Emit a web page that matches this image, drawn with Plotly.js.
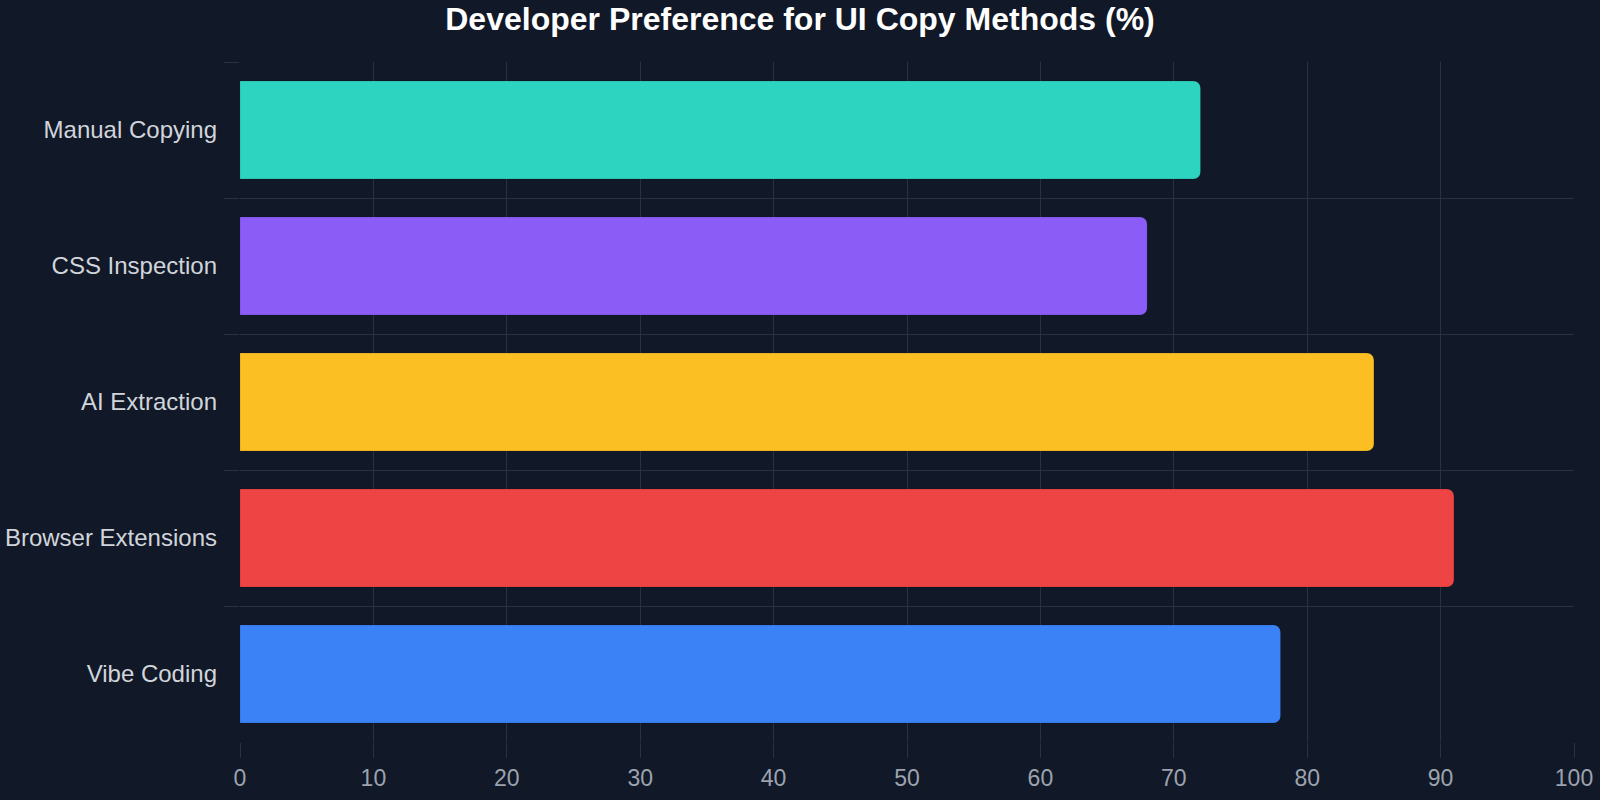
<!DOCTYPE html>
<html>
<head>
<meta charset="utf-8">
<script src="https://cdn.plot.ly/plotly-3.0.1.min.js"></script>
<style>
html,body{margin:0;padding:0;background:#111827;}
#chart{width:1600px;height:800px;}
</style>
</head>
<body>
<div id="chart"></div>
<script>
const categories = ["Manual Copying", "CSS Inspection", "AI Extraction", "Browser Extensions", "Vibe Coding"];
const values = [72, 68, 85, 91, 78];
const barColors = ["#2dd4bf", "#8b5cf6", "#fbbf24", "#ef4444", "#3b82f6"];
const xTickVals = [0, 10, 20, 30, 40, 50, 60, 70, 80, 90, 100];

const gridColor = "#2a3242";

const trace = {
  type: "bar",
  orientation: "h",
  x: values,
  y: categories,
  marker: {
    color: barColors,
    line: {color: "rgba(0,0,0,0.12)", width: 1}
  },
  hoverinfo: "x+y"
};

const layout = {
  width: 1600,
  height: 800,
  paper_bgcolor: "#111827",
  plot_bgcolor: "#111827",
  font: {family: "Liberation Sans, Arial, sans-serif", color: "#d1d5db"},
  title: {
    text: "<b>Developer Preference for UI Copy Methods (%)</b>",
    font: {family: "Liberation Sans, Arial, sans-serif", size: 32, color: "#ffffff"},
    x: 0.5, xanchor: "center",
    y: 0.977, yref: "container", yanchor: "middle"
  },
  margin: {l: 240, r: 26, t: 62, b: 58},
  bargap: 0.28,
  barcornerradius: 7,
  showlegend: false,
  xaxis: {
    range: [0, 100],
    tickvals: xTickVals,
    ticks: "outside",
    ticklen: 15,
    tickcolor: gridColor,
    showgrid: true,
    gridcolor: gridColor,
    gridwidth: 1,
    zeroline: false,
    showline: false,
    layer: "above traces",
    tickfont: {size: 23, color: "#9ca3af"}
  },
  yaxis: {
    autorange: "reversed",
    tickson: "boundaries",
    ticks: "outside",
    ticklen: 15,
    tickcolor: gridColor,
    ticklabelstandoff: 22,
    showgrid: true,
    gridcolor: gridColor,
    gridwidth: 1,
    showline: false,
    zeroline: false,
    tickfont: {size: 24, color: "#d1d5db"}
  }
};

Plotly.newPlot("chart", [trace], layout, {displayModeBar: false, staticPlot: true});
</script>
</body>
</html>
